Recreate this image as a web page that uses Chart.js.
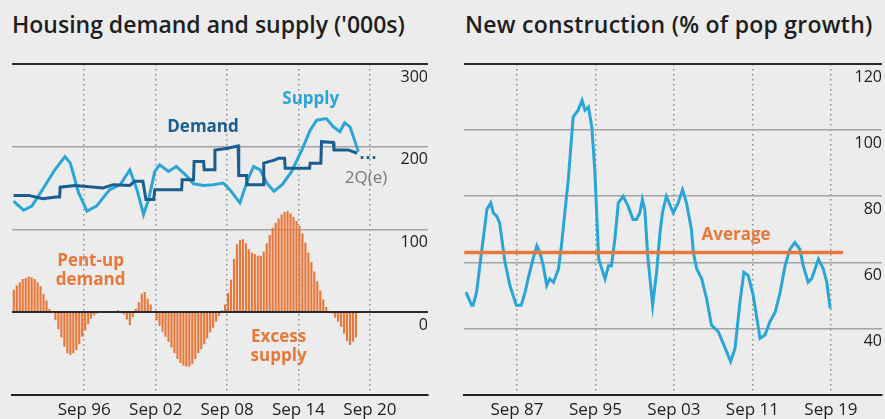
<!DOCTYPE html>
<html>
<head>
<meta charset="utf-8">
<script src="https://cdn.jsdelivr.net/npm/chart.js@4.4.0/dist/chart.umd.min.js"></script>
<style>
  body { margin: 0; background: #ececec; width: 885px; height: 419px; overflow: hidden; position: relative; }
  .title { position: absolute; top: 9px; font-family: 'Open Sans', sans-serif; font-weight: 600; font-size: 23px; line-height: 30px; color: #1e1e1e; white-space: nowrap; }
  canvas { position: absolute; top: 0; }
</style>
</head>
<body>
<div class="title" style="left:12px">Housing demand and supply ('000s)</div>
<div class="title" style="left:465px; letter-spacing:0.25px">New construction (% of pop growth)</div>
<canvas id="demandChart" width="440" height="419" style="left:0"></canvas>
<canvas id="constructionChart" width="445" height="419" style="left:440px"></canvas>
<script>
// ---- left panel: housing demand and supply ('000s)
const supplyYears = [1990.73, 1991.57, 1992.27, 1993.25, 1994.2, 1995.05, 1995.5, 1996.2, 1996.9, 1997.7, 1998.8, 1999.7, 2000.5, 2001.1, 2001.65, 2002.07, 2002.6, 2003.0, 2003.75, 2004.4, 2005.3, 2005.85, 2006.7, 2007.5, 2008.35, 2008.9, 2009.75, 2010.4, 2010.9, 2011.45, 2012.0, 2012.6, 2013.3, 2014.1, 2014.95, 2015.65, 2016.2, 2017.0, 2017.6, 2018.15, 2018.55, 2019.0, 2019.7];
const supplyValues = [134, 123, 128, 150, 172, 188, 180, 144, 122, 128, 148, 154, 172, 148, 118, 136, 170, 178, 170, 176, 164, 155, 153, 154, 156, 148, 132, 160, 176, 172, 156, 146, 154, 170, 196, 220, 232, 234, 224, 218, 229, 224, 194];

const demandYears = [1990.73, 1992.0, 1993.2, 1994.3, 1994.6, 1994.65, 1995.9, 1998.25, 1999.1, 2000.5, 2000.9, 2001.6, 2001.85, 2002.5, 2002.6, 2004.85, 2004.9, 2005.85, 2005.9, 2006.7, 2006.75, 2007.6, 2007.65, 2008.75, 2009.6, 2009.65, 2010.3, 2010.35, 2011.7, 2011.75, 2012.7, 2013.0, 2013.5, 2013.55, 2014.8, 2015.6, 2015.65, 2016.55, 2016.6, 2017.6, 2017.65, 2018.85, 2019.6];
const demandValues = [141, 141, 137, 139, 139, 151, 153, 150, 154, 153, 158, 158, 136, 136, 148, 148, 160, 160, 182, 182, 172, 172, 196, 198, 201, 165, 165, 154, 154, 180, 184, 186, 186, 174, 174, 174, 180, 180, 206, 205, 196, 196, 192];

// 2Q estimate, dotted
const projYears = [2019.9, 2021.3];
const projValues = [187, 187];

// quarterly gap (pent-up demand / excess supply), first quarter Sep 1990
const gapStart = 1990.75;
const gapValues = [
  27, 32, 36, 40, 41, 43, 42, 40, 36, 31, 22, 14, 4, -1, -10, -21, -31, -42, -50, -52,
  -50, -46, -39, -30, -22, -15, -8, -4, -2, -1, 0, 0, 0, 0, 1, 2, 1, -3, -9, -16,
  -6, 4, 12, 22, 24, 16, 9, 1, -10, -17, -24, -30, -36, -43, -50, -57, -62, -65, -66, -66,
  -63, -57, -50, -45, -39, -32, -25, -19, -12, -5, 2, 9, 23, 39, 64, 82, 87, 88, 83, 76,
  72, 70, 68, 68, 73, 83, 93, 102, 108, 113, 118, 121, 122, 119, 115, 110, 104, 95, 84, 72,
  60, 49, 37, 26, 15, 6, 1, -2, -7, -12, -18, -26, -35, -40, -36, -31
];
const gapYears = gapValues.map((v, i) => gapStart + i * 0.25);

const leftTickYears = [1996.67, 2002.67, 2008.67, 2014.67, 2020.67];
const leftTickLabels = ['Sep 96', 'Sep 02', 'Sep 08', 'Sep 14', 'Sep 20'];

// ---- right panel: new construction (% of pop growth)
const constructionYears = [1982.47, 1983.05, 1983.2, 1983.55, 1984.05, 1984.4, 1984.6, 1985.0, 1985.25, 1985.6,
  1985.9, 1986.45, 1986.95, 1987.6, 1988.1, 1988.5, 1988.8, 1989.3, 1989.7, 1990.0,
  1990.35, 1990.7, 1991.0, 1991.4, 1991.9, 1992.2, 1992.9, 1993.4, 1993.9, 1994.3,
  1994.6, 1994.95, 1995.3, 1995.6, 1996.0, 1996.65, 1997.0, 1997.3, 1997.65, 1998.0,
  1998.5, 1999.0, 1999.5, 1999.85, 2000.2, 2000.45, 2000.7, 2001.0, 2001.5, 2001.9,
  2002.25, 2002.5, 2002.9, 2003.6, 2004.1, 2004.55, 2004.95, 2005.45, 2005.65, 2006.0,
  2006.5, 2007.0, 2007.5, 2008.2, 2008.9, 2009.45, 2009.9, 2010.4, 2010.8, 2011.25,
  2011.75, 2012.45, 2012.95, 2013.45, 2014.0, 2014.5, 2015.0, 2015.5, 2016.0, 2016.5,
  2016.85, 2017.35, 2017.7, 2018.4, 2018.9, 2019.25, 2019.6];
const constructionValues = [51, 47, 47, 51, 63, 71, 76, 78, 75, 74,
  72, 60, 53, 47, 47, 51, 55, 61, 65, 63,
  59, 53, 55, 54, 58, 65, 85, 104, 106, 109,
  106, 107, 101, 88, 61, 55, 59, 59, 67, 78,
  80, 77, 73, 73, 75, 79, 76, 62, 47, 57,
  69, 75, 80, 75, 78, 82, 78, 70, 63, 58,
  55, 49, 41, 39, 34, 30, 34, 48, 57, 56,
  50, 37, 38, 42, 45, 51, 59, 64, 66, 64,
  59, 54, 55, 61, 58, 54, 46];

const averageYears = [1982.3, 2020.9];
const averageValues = [63, 63];

const rightTickYears = [1987.67, 1995.67, 2003.67, 2011.67, 2019.67];
const rightTickLabels = ['Sep 87', 'Sep 95', 'Sep 03', 'Sep 11', 'Sep 19'];

const lightBlue = '#2aa5d8';
const darkBlue = '#1b5d8e';
const orange = '#e8773a';

const toPoints = (xs, ys) => xs.map((x, i) => ({ x: x, y: ys[i] }));

Chart.defaults.font.family = "'Open Sans', sans-serif";
Chart.defaults.color = '#1e1e1e';

// text notes placed in data coordinates
const textLabels = {
  id: 'textLabels',
  afterDatasetsDraw(chart, args, opts) {
    const { ctx, scales } = chart;
    ctx.save();
    ctx.textAlign = 'center';
    ctx.textBaseline = 'middle';
    (opts.items || []).forEach(item => {
      ctx.font = item.font;
      ctx.fillStyle = item.color;
      ctx.fillText(item.text, scales.x.getPixelForValue(item.year), scales.y.getPixelForValue(item.value));
    });
    ctx.restore();
  }
};

function xAxis(min, max, tickYears, tickLabels) {
  return {
    type: 'linear',
    min: min,
    max: max,
    offset: false,
    afterBuildTicks: axis => { axis.ticks = tickYears.map(v => ({ value: v })); },
    grid: { color: '#8c8c8c', lineWidth: 1.5, drawTicks: false, offset: false },
    border: { display: true, color: '#222', width: 2, dash: [1.5, 3.5] },
    ticks: {
      autoSkip: false,
      maxRotation: 0,
      padding: 5,
      color: '#1e1e1e',
      font: { size: 17 },
      callback: (value, index) => tickLabels[index]
    }
  };
}

function yAxis(min, max, step, darkValues) {
  return {
    position: 'right',
    min: min,
    max: max,
    grid: {
      drawTicks: false,
      color: c => c.tick.value === min ? 'rgba(0,0,0,0)' : (darkValues.includes(c.tick.value) ? '#2a2a2a' : '#a3a3a3'),
      lineWidth: c => darkValues.includes(c.tick.value) ? 2 : 1.5
    },
    border: { display: false },
    ticks: {
      stepSize: step,
      mirror: true,
      padding: 0,
      labelOffset: 13,
      color: '#1e1e1e',
      font: { size: 16 },
      callback: value => value === min ? '' : value
    }
  };
}

new Chart(document.getElementById('demandChart'), {
  type: 'line',
  data: {
    datasets: [
      {
        type: 'bar',
        label: 'Gap',
        data: toPoints(gapYears, gapValues),
        backgroundColor: orange,
        borderWidth: 0,
        barPercentage: 0.72,
        categoryPercentage: 1
      },
      {
        label: 'Demand',
        data: toPoints(demandYears, demandValues),
        borderColor: darkBlue,
        borderWidth: 3,
        pointRadius: 0,
        tension: 0
      },
      {
        label: 'Supply',
        data: toPoints(supplyYears, supplyValues),
        borderColor: lightBlue,
        borderWidth: 3,
        pointRadius: 0,
        tension: 0
      },
      {
        label: '2Q(e)',
        data: toPoints(projYears, projValues),
        borderColor: darkBlue,
        borderWidth: 3,
        borderDash: [2.5, 3.5],
        pointRadius: 0
      }
    ]
  },
  options: {
    responsive: false,
    animation: false,
    layout: { padding: { left: 12, right: 12, top: 64, bottom: -6 } },
    scales: {
      x: xAxis(1990.6, 2025.55, leftTickYears, leftTickLabels),
      y: yAxis(-100, 300, 100, [300, 0])
    },
    plugins: {
      legend: { display: false },
      tooltip: { enabled: false },
      textLabels: {
        items: [
          { text: 'Supply', year: 2015.7, value: 258, color: lightBlue, font: "bold 17px 'Open Sans'" },
          { text: 'Demand', year: 2006.65, value: 223, color: darkBlue, font: "bold 17px 'Open Sans'" },
          { text: '2Q(e)', year: 2020.35, value: 162, color: '#7a7a7a', font: "17px 'Open Sans'" },
          { text: 'Pent-up', year: 1997.2, value: 61, color: orange, font: "bold 17px 'Open Sans'" },
          { text: 'demand', year: 1997.2, value: 38, color: orange, font: "bold 17px 'Open Sans'" },
          { text: 'Excess', year: 2013.0, value: -30, color: orange, font: "bold 17px 'Open Sans'" },
          { text: 'supply', year: 2013.0, value: -54, color: orange, font: "bold 17px 'Open Sans'" }
        ]
      }
    }
  },
  plugins: [textLabels]
});

new Chart(document.getElementById('constructionChart'), {
  type: 'line',
  data: {
    datasets: [
      {
        label: 'Average',
        data: toPoints(averageYears, averageValues),
        borderColor: orange,
        borderWidth: 3.5,
        pointRadius: 0
      },
      {
        label: 'New construction',
        data: toPoints(constructionYears, constructionValues),
        borderColor: lightBlue,
        borderWidth: 3,
        pointRadius: 0,
        tension: 0
      }
    ]
  },
  options: {
    responsive: false,
    animation: false,
    layout: { padding: { left: 24, right: 3, top: 64, bottom: -6 } },
    scales: {
      x: xAxis(1982.27, 2024.88, rightTickYears, rightTickLabels),
      y: yAxis(20, 120, 20, [120])
    },
    plugins: {
      legend: { display: false },
      tooltip: { enabled: false },
      textLabels: {
        items: [
          { text: 'Average', year: 2010.0, value: 68.3, color: orange, font: "bold 17px 'Open Sans'" }
        ]
      }
    }
  },
  plugins: [textLabels]
});
</script>
</body>
</html>
